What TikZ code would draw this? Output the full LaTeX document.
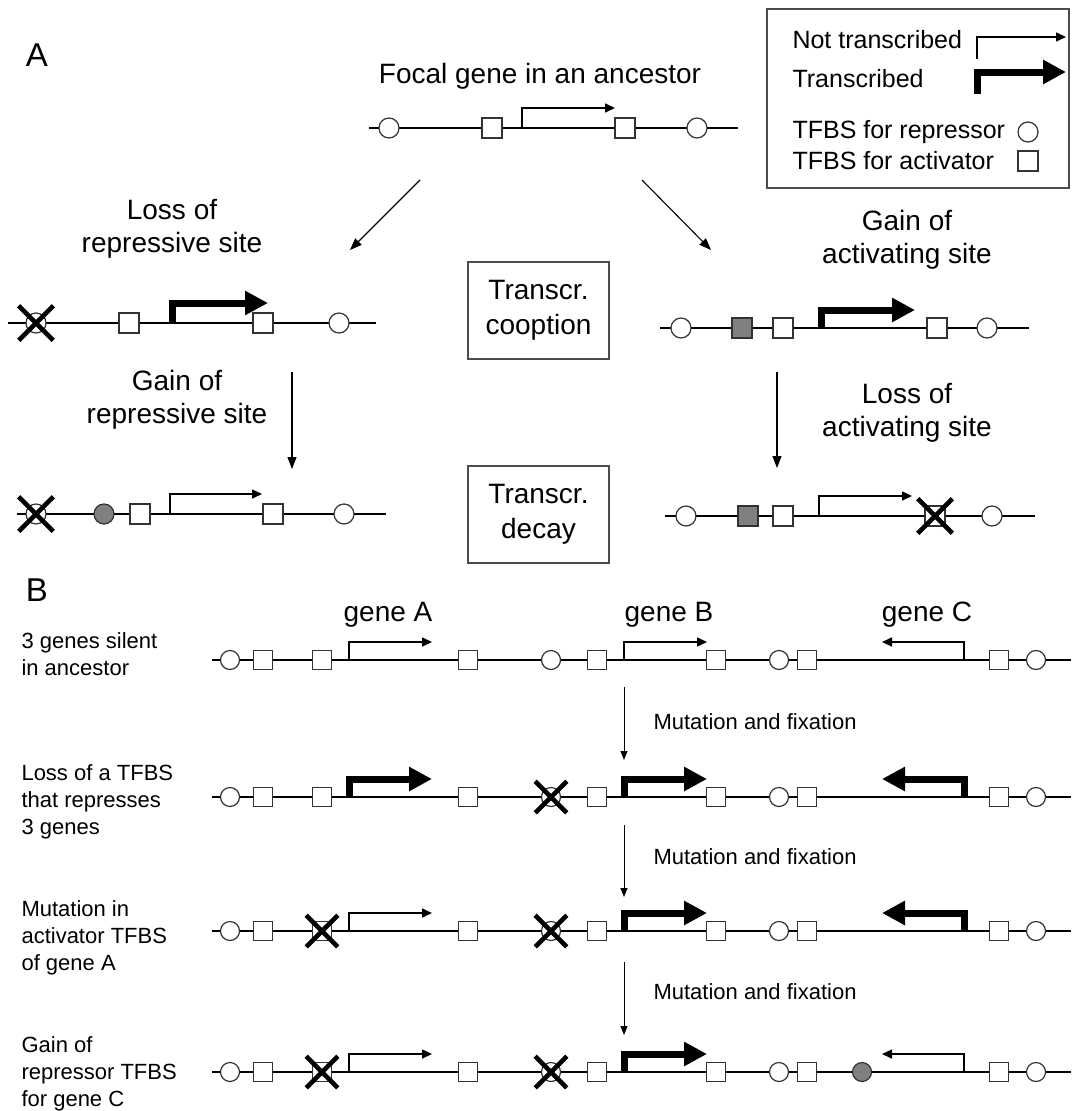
\documentclass[tikz,border=0pt]{standalone}
\usepackage{fontspec}
\setmainfont{Liberation Sans}
\usetikzlibrary{shapes.misc,arrows.meta,positioning}

\newcommand{\labfont}{\fontsize{28}{33}\selectfont}
\newcommand{\legfont}{\fontsize{25}{30}\selectfont}
\newcommand{\rowfont}{\fontsize{22}{27}\selectfont}

\tikzset{
  dna/.style={line width=2.6pt},
  rep/.style={circle, draw=black!80, fill=white, line width=1.2pt, minimum size=20pt, inner sep=0pt},
  act/.style={rectangle, draw=black!80, fill=white, line width=1.2pt, minimum size=20pt, inner sep=0pt},
  gained/.style={fill=black!50},
  lost/.style={cross out, draw=black, line width=4.6pt, minimum size=30pt, inner sep=0pt},
  offtx/.style={line width=1.6pt, -{Triangle[length=10pt,width=9pt]}},
  ontx/.style={line width=7pt, -{Triangle[length=23pt,width=23pt]}},
  change/.style={line width=1.1pt, -{Triangle[length=12pt,width=9pt]}},
  fixarrow/.style={line width=1pt, -{Triangle[length=9pt,width=7pt]}},
  stage/.style={draw=black!70, line width=1.2pt, minimum width=141pt, minimum height=97pt, align=center, font=\fontsize{28}{35}\selectfont},
  labtext/.style={align=center, font=\labfont},
  legtext/.style={anchor=west, font=\legfont},
  rowtext/.style={align=left, anchor=west, font=\rowfont},
}

\begin{document}
\begin{tikzpicture}[x=1pt, y=-1pt]
\useasboundingbox (0,0) rectangle (1071,1111);

% panel letters
\node[font=\fontsize{33}{38}\selectfont] (lblA) at (37,55) {A};
\node[font=\fontsize{33}{38}\selectfont] (lblB) at (37,590) {B};

% legend
\node[draw=black!70, line width=1.2pt, minimum width=302pt, minimum height=179pt, inner sep=0pt] (legend) at (918,98.5) {};
\node[legtext] (leg-off) at (789,40) {Not transcribed};
\node[legtext] (leg-on) at (789,79) {Transcribed};
\node[legtext] (leg-rep) at (789,132) {TFBS for repressor};
\node[legtext] (leg-act) at (789,161) {TFBS for activator};
\coordinate (leg-p1) at (977,59); \coordinate (leg-t1) at (1066,37);
\coordinate (leg-p2) at (977,94); \coordinate (leg-t2) at (1066,72);
\draw[offtx] (leg-p1) |- (leg-t1);
\draw[ontx] (leg-p2) |- (leg-t2);
\node[rep] (leg-circ) at (1028,132) {};
\node[act] (leg-sq) at (1028,161) {};

% A: ancestor
\node[labtext] (focal) at (540,76) {Focal gene in an ancestor};
\coordinate (anc-l) at (369,128); \coordinate (anc-r) at (738,128);
\draw[dna] (anc-l) -- (anc-r);
\node[rep] (anc-r1) at (389,128) {};
\node[act] (anc-a1) at (492,128) {};
\node[act] (anc-a2) at (625,128) {};
\node[rep] (anc-r2) at (697,128) {};
\coordinate (anc-p) at (522,128); \coordinate (anc-t) at (615,108);
\draw[offtx] (anc-p) |- (anc-t);

% A: cooption, left
\node[labtext] (lossrep) at (172,228.5) {Loss of\\repressive site};
\coordinate (cl-l) at (8,323); \coordinate (cl-r) at (376,323);
\draw[dna] (cl-l) -- (cl-r);
\node[rep] (cl-r1) at (36,323) {};
\node[act] (cl-a1) at (129,323) {};
\node[act] (cl-a2) at (263,323) {};
\node[rep] (cl-r2) at (339,323) {};
\coordinate (cl-p) at (172,323); \coordinate (cl-t) at (268,303);
\draw[ontx] (cl-p) |- (cl-t);
\node[lost] (cl-x) at (cl-r1) {};

% A: cooption, right
\node[labtext] (gainact) at (907,240) {Gain of\\activating site};
\coordinate (cr-l) at (660,328); \coordinate (cr-r) at (1029,328);
\draw[dna] (cr-l) -- (cr-r);
\node[rep] (cr-r1) at (681,328) {};
\node[act, gained] (cr-new) at (742,328) {};
\node[act] (cr-a1) at (783,328) {};
\node[act] (cr-a2) at (937,328) {};
\node[rep] (cr-r2) at (987,328) {};
\coordinate (cr-p) at (821,328); \coordinate (cr-t) at (915,310);
\draw[ontx] (cr-p) |- (cr-t);

\node[stage] (coopt) at (538.5,310.5) {Transcr.\\cooption};

% A: decay, left
\node[labtext] (gainrep) at (177,400) {Gain of\\repressive site};
\coordinate (dl-l) at (17,514); \coordinate (dl-r) at (386,514);
\draw[dna] (dl-l) -- (dl-r);
\node[rep] (dl-r1) at (36,514) {};
\node[rep, gained] (dl-new) at (104,514) {};
\node[act] (dl-a1) at (140,514) {};
\node[act] (dl-a2) at (273,514) {};
\node[rep] (dl-r2) at (344,514) {};
\coordinate (dl-p) at (170,514); \coordinate (dl-t) at (262,494);
\draw[offtx] (dl-p) |- (dl-t);
\node[lost] (dl-x) at (dl-r1) {};

% A: decay, right
\node[labtext] (lossact) at (907,412.5) {Loss of\\activating site};
\coordinate (dr-l) at (665,516); \coordinate (dr-r) at (1035,516);
\draw[dna] (dr-l) -- (dr-r);
\node[rep] (dr-r1) at (686,516) {};
\node[act, gained] (dr-new) at (748,516) {};
\node[act] (dr-a1) at (783,516) {};
\node[act] (dr-a2) at (935,516) {};
\node[rep] (dr-r2) at (992,516) {};
\coordinate (dr-p) at (819,516); \coordinate (dr-t) at (912,496);
\draw[offtx] (dr-p) |- (dr-t);
\node[lost] (dr-x) at (dr-a2) {};

\node[stage] (decay) at (538.5,514.5) {Transcr.\\decay};

% A: arrows
\coordinate (ds1) at (420,180); \coordinate (de1) at (350,250);
\coordinate (ds2) at (642,180); \coordinate (de2) at (711,250);
\coordinate (ds3) at (292,372); \coordinate (de3) at (292,469);
\coordinate (ds4) at (777,372); \coordinate (de4) at (777,468);
\draw[change] (ds1) -- (de1);
\draw[change] (ds2) -- (de2);
\draw[change] (ds3) -- (de3);
\draw[change] (ds4) -- (de4);

% B: gene labels
\node[labtext] (geneA) at (388,615) {gene A};
\node[labtext] (geneB) at (669,615) {gene B};
\node[labtext] (geneC) at (927,615) {gene C};

% B: rows
\foreach \r/\yy in {1/660,2/797,3/931,4/1072}{
  \coordinate (r\r-l) at (212,\yy);
  \coordinate (r\r-r) at (1071,\yy);
  \draw[dna, line width=2.2pt] (r\r-l) -- (r\r-r);
  \foreach \i/\xx in {1/230,5/551,8/779,11/1036}
    \node[rep, minimum size=19pt] (r\r-\i) at (\xx,\yy) {};
  \foreach \i/\xx in {2/263,3/322,4/468,6/597,7/716,9/807,10/999}
    \node[act, minimum size=19pt] (r\r-\i) at (\xx,\yy) {};
  \coordinate (r\r-pa) at (349,\yy); \coordinate (r\r-ta) at (432,\yy-18);
  \coordinate (r\r-pb) at (624,\yy); \coordinate (r\r-tb) at (707,\yy-18);
  \coordinate (r\r-pc) at (964,\yy); \coordinate (r\r-tc) at (882,\yy-18);
}

\draw[offtx] (r1-pa) |- (r1-ta);
\draw[offtx] (r1-pb) |- (r1-tb);
\draw[offtx] (r1-pc) |- (r1-tc);

\draw[ontx] (r2-pa) |- (r2-ta);
\draw[ontx] (r2-pb) |- (r2-tb);
\draw[ontx] (r2-pc) |- (r2-tc);
\node[lost, minimum size=27pt] (r2-x5) at (r2-5) {};

\draw[offtx] (r3-pa) |- (r3-ta);
\draw[ontx] (r3-pb) |- (r3-tb);
\draw[ontx] (r3-pc) |- (r3-tc);
\node[lost, minimum size=27pt] (r3-x3) at (r3-3) {};
\node[lost, minimum size=27pt] (r3-x5) at (r3-5) {};

\node[rep, gained, minimum size=19pt] (r4-new) at (862,1072) {};
\draw[offtx] (r4-pa) |- (r4-ta);
\draw[ontx] (r4-pb) |- (r4-tb);
\draw[offtx] (r4-pc) |- (r4-tc);
\node[lost, minimum size=27pt] (r4-x3) at (r4-3) {};
\node[lost, minimum size=27pt] (r4-x5) at (r4-5) {};

% B: row descriptions
\node[rowtext] (desc1) at (18,654) {3 genes silent\\in ancestor};
\node[rowtext] (desc2) at (18,802) {Loss of a TFBS\\that represses\\3 genes};
\node[rowtext] (desc3) at (18,938) {Mutation in\\activator TFBS\\of gene A};
\node[rowtext] (desc4) at (18,1074) {Gain of\\repressor TFBS\\for gene C};

% B: mutation steps
\coordinate (ms1) at (624,687); \coordinate (me1) at (624,760);
\coordinate (ms2) at (624,825); \coordinate (me2) at (624,897);
\coordinate (ms3) at (624,962); \coordinate (me3) at (624,1035);
\draw[fixarrow] (ms1) -- (me1);
\draw[fixarrow] (ms2) -- (me2);
\draw[fixarrow] (ms3) -- (me3);
\node[rowtext] (fix1) at (650,722) {Mutation and fixation};
\node[rowtext] (fix2) at (650,857) {Mutation and fixation};
\node[rowtext] (fix3) at (650,992) {Mutation and fixation};
\end{tikzpicture}
\end{document}
